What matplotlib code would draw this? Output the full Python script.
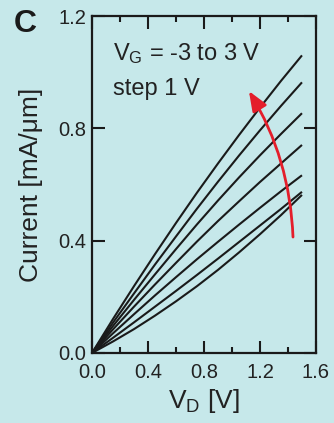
import matplotlib
matplotlib.use("Agg")
import matplotlib.pyplot as plt
from matplotlib.ticker import MultipleLocator

plt.rcParams['font.family'] = ['Liberation Sans', 'DejaVu Sans']
plt.rcParams['mathtext.default'] = 'regular'

bg = '#c6e8ea'

# drain voltage (V) and current (mA/um), one curve per gate voltage
vd = [0.0, 0.15, 0.3, 0.45, 0.6, 0.75, 0.9, 1.05, 1.2, 1.35, 1.5]
i_vg_m3 = [0.0, 0.041, 0.085, 0.133, 0.184, 0.238, 0.296, 0.358, 0.423, 0.491, 0.563]
i_vg_m2 = [0.0, 0.054, 0.109, 0.165, 0.221, 0.278, 0.336, 0.395, 0.454, 0.513, 0.574]
i_vg_m1 = [0.0, 0.070, 0.138, 0.205, 0.270, 0.334, 0.396, 0.457, 0.517, 0.576, 0.633]
i_vg_0 = [0.0, 0.084, 0.165, 0.244, 0.321, 0.397, 0.470, 0.540, 0.609, 0.675, 0.741]
i_vg_1 = [0.0, 0.096, 0.189, 0.280, 0.370, 0.458, 0.543, 0.625, 0.704, 0.780, 0.854]
i_vg_2 = [0.0, 0.108, 0.212, 0.315, 0.415, 0.514, 0.610, 0.703, 0.793, 0.880, 0.964]
i_vg_3 = [0.0, 0.121, 0.238, 0.352, 0.463, 0.571, 0.675, 0.776, 0.874, 0.969, 1.060]
curves = [i_vg_m3, i_vg_m2, i_vg_m1, i_vg_0, i_vg_1, i_vg_2, i_vg_3]

# red arrow from tail to tip (data coords)
arrow_tail = (1.436, 0.413)
arrow_tip = (1.121, 0.933)

fig = plt.figure(figsize=(3.34, 4.23), dpi=100, facecolor=bg)
ax = fig.add_axes([0.2754, 0.1655, 0.6706, 0.7965])
ax.set_facecolor(bg)

for cur in curves:
    ax.plot(vd, cur, color='#1a1a1a', lw=1.5, solid_capstyle='butt')

ax.annotate('', xy=arrow_tip, xytext=arrow_tail,
            arrowprops=dict(arrowstyle='-|>,head_length=1.0,head_width=0.4',
                            mutation_scale=12, color='#e41e2b', lw=2,
                            connectionstyle='arc3,rad=0.13',
                            shrinkA=0, shrinkB=0))

ax.text(0.15, 1.043, 'V$_G$ = -3 to 3 V', fontsize=17, color='#222222', va='baseline')
ax.text(0.15, 0.92, 'step 1 V', fontsize=17, color='#222222', va='baseline')

ax.set_xlim(0, 1.6)
ax.set_ylim(0, 1.2)
ax.xaxis.set_major_locator(MultipleLocator(0.4))
ax.xaxis.set_minor_locator(MultipleLocator(0.2))
ax.yaxis.set_major_locator(MultipleLocator(0.4))
ax.set_xticklabels([f'{v:.1f}' for v in ax.get_xticks()])
ax.set_yticklabels([f'{v:.1f}' for v in ax.get_yticks()])
ax.tick_params(which='both', direction='in', top=True, right=True,
               width=1.5, color='#1a1a1a', labelsize=14.5, labelcolor='#222222')
ax.tick_params(which='major', length=9)
ax.tick_params(which='minor', length=4.5)
ax.tick_params(axis='x', which='major', pad=7)
ax.tick_params(axis='y', which='major', pad=4)
for s in ax.spines.values():
    s.set_linewidth(1.6)
    s.set_color('#1a1a1a')

ax.set_xlabel('V$_D$ [V]', fontsize=19, color='#222222', labelpad=4)
ax.set_ylabel('Current [mA/\u03bcm]', fontsize=19, color='#222222', labelpad=11)

fig.text(0.042, 0.925, 'C', fontsize=23, fontweight='bold', color='#1a1a1a')

fig.savefig('out.png', dpi=100, facecolor=bg)
